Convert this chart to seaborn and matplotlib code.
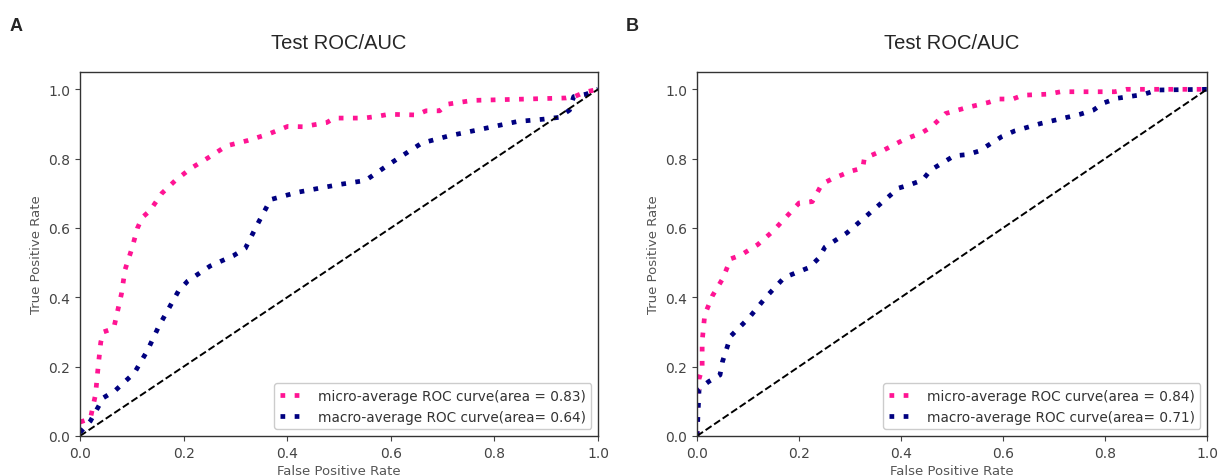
import seaborn as sns
import pandas as pd
import matplotlib.pyplot as plt

# ROC curve vertices
a_micro_fpr = [0, 0.02, 0.03, 0.035, 0.04, 0.045, 0.065, 0.08, 0.087, 0.1, 0.111, 0.12, 0.135,
               0.158, 0.184, 0.214, 0.249, 0.283, 0.323, 0.364, 0.401, 0.43, 0.476, 0.491, 0.548,
               0.574, 0.596, 0.649, 0.668, 0.694, 0.709, 0.758, 0.863, 0.938, 0.956, 0.975, 1.0]
a_micro_tpr = [0.04, 0.05, 0.12, 0.2, 0.27, 0.3, 0.31, 0.41, 0.48, 0.54, 0.6, 0.63, 0.65,
               0.7, 0.737, 0.772, 0.804, 0.837, 0.852, 0.871, 0.893, 0.892, 0.904, 0.917, 0.917,
               0.922, 0.928, 0.926, 0.938, 0.938, 0.957, 0.968, 0.972, 0.975, 0.98, 0.992, 1.0]
a_macro_fpr = [0, 0.02, 0.045, 0.068, 0.105, 0.13, 0.152, 0.19, 0.208, 0.251, 0.296, 0.319,
               0.343, 0.368, 0.42, 0.499, 0.551, 0.596, 0.639, 0.66, 0.713, 0.765, 0.844, 0.896,
               0.924, 0.945, 0.953, 0.977, 1.0]
a_macro_tpr = [0.01, 0.043, 0.11, 0.131, 0.182, 0.246, 0.316, 0.418, 0.447, 0.49, 0.52, 0.541,
               0.612, 0.682, 0.703, 0.725, 0.737, 0.783, 0.825, 0.845, 0.866, 0.882, 0.907, 0.914,
               0.919, 0.94, 0.979, 0.986, 1.0]

b_micro_fpr = [0, 0.0, 0.004, 0.01, 0.01, 0.015, 0.03, 0.05, 0.066, 0.085, 0.119, 0.149, 0.175,
               0.2, 0.226, 0.245, 0.264, 0.302, 0.325, 0.328, 0.368, 0.406, 0.44, 0.459, 0.487,
               0.528, 0.571, 0.592, 0.619, 0.639, 0.688, 0.713, 0.819, 0.842, 1.0]
b_micro_tpr = [0.0, 0.09, 0.165, 0.194, 0.273, 0.349, 0.404, 0.453, 0.511, 0.521, 0.552, 0.591,
               0.632, 0.672, 0.676, 0.727, 0.741, 0.764, 0.773, 0.801, 0.826, 0.855, 0.874, 0.891,
               0.93, 0.947, 0.962, 0.972, 0.972, 0.983, 0.986, 0.993, 0.993, 1.0, 1.0]
b_macro_fpr = [0, 0.004, 0.023, 0.045, 0.05, 0.066, 0.102, 0.136, 0.171, 0.196, 0.22, 0.238,
               0.251, 0.294, 0.395, 0.416, 0.442, 0.458, 0.504, 0.531, 0.553, 0.598, 0.623,
               0.673, 0.751, 0.777, 0.798, 0.823, 0.875, 0.902, 1.0]
b_macro_tpr = [0.0, 0.136, 0.157, 0.176, 0.215, 0.288, 0.341, 0.402, 0.457, 0.472, 0.486, 0.512,
               0.545, 0.586, 0.715, 0.724, 0.738, 0.767, 0.808, 0.812, 0.822, 0.864, 0.88,
               0.901, 0.928, 0.94, 0.961, 0.974, 0.985, 0.998, 1.0]

panels = ["A", "B"]
micro_auc = [0.83, 0.84]
macro_auc = [0.64, 0.71]
chance = [0, 1]

sns.set_style("white")
plt.rcParams['font.family'] = ['DejaVu Sans']

fig = plt.figure(figsize=(12.18, 4.77), dpi=100)
ax_a = fig.add_axes([0.0657, 0.084, 0.4253, 0.763])
ax_b = fig.add_axes([0.5723, 0.084, 0.4187, 0.763])

curves = [(a_micro_fpr, a_micro_tpr, a_macro_fpr, a_macro_tpr),
          (b_micro_fpr, b_micro_tpr, b_macro_fpr, b_macro_tpr)]

for i, ax in enumerate([ax_a, ax_b]):
    mi_x, mi_y, ma_x, ma_y = curves[i]
    sns.lineplot(x=mi_x, y=mi_y, sort=False, estimator=None, ax=ax, color="deeppink",
                 lw=3.4, dashes=False,
                 label="micro-average ROC curve(area = %.2f)" % micro_auc[i])
    sns.lineplot(x=ma_x, y=ma_y, sort=False, estimator=None, ax=ax, color="navy",
                 lw=3.4, dashes=False,
                 label="macro-average ROC curve(area= %.2f)" % macro_auc[i])
    for ln in ax.get_lines()[:2]:
        ln.set_dashes((1.0, 2.0))
    ax.plot(chance, chance, "k--", lw=1.4)
    ax.set_xlim(0, 1)
    ax.set_ylim(0, 1.05)
    ax.set_xticks([0, 0.2, 0.4, 0.6, 0.8, 1.0])
    ax.set_yticks([0, 0.2, 0.4, 0.6, 0.8, 1.0])
    ax.tick_params(labelsize=10, colors="#444444", length=3.5, width=0.8, bottom=True, left=True)
    ax.set_xlabel("False Positive Rate", fontsize=9.5, color="#555555", labelpad=3)
    ax.set_ylabel("True Positive Rate", fontsize=9.5, color="#555555")
    ax.set_title("Test ROC/AUC", fontsize=14.5, family="Liberation Sans", pad=17)
    for sp in ax.spines.values():
        sp.set_color("#333333")
        sp.set_linewidth(1.0)
    leg = ax.legend(loc="lower right", fontsize=9.8, handlelength=2.0, framealpha=1)
    for t in leg.get_texts():
        t.set_color("#333333")
    for h in leg.get_lines():
        h.set_dashes((1.0, 2.0))

fig.text(0.008, 0.935, panels[0], fontsize=13, fontweight="bold", family="Liberation Sans")
fig.text(0.514, 0.935, panels[1], fontsize=13, fontweight="bold", family="Liberation Sans")

fig.savefig("out.png", dpi=100)
